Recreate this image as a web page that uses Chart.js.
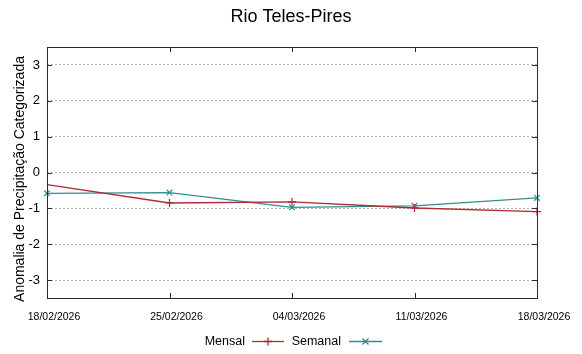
<!DOCTYPE html>
<html>
<head>
<meta charset="utf-8">
<script src="https://cdn.jsdelivr.net/npm/chart.js@4.4.1/dist/chart.umd.min.js"></script>
<style>
  html, body { margin: 0; padding: 0; background: #ffffff; }
  #wrap { width: 582px; height: 354px; position: relative; }
</style>
</head>
<body>
<div id="wrap"><canvas id="c" width="582" height="354"></canvas></div>
<script>
const chartTitle = "Rio Teles-Pires";
const yAxisTitle = "Anomalia de Precipitação Categorizada";
const dates = ["18/02/2026", "25/02/2026", "04/03/2026", "11/03/2026", "18/03/2026"];
const mensal = [-0.34, -0.85, -0.82, -0.99, -1.09];
const semanal = [-0.58, -0.56, -0.97, -0.93, -0.71];
const yTicks = [-3, -2, -1, 0, 1, 2, 3];

const FONT = "'Liberation Sans', Arial, sans-serif";
const redColor = "#b02a36";
const tealColor = "#2e8f8c";

const framePlugin = {
  id: "frame",
  afterDraw(chart) {
    const ctx = chart.ctx;
    const a = chart.chartArea;
    const xs = chart.scales.x, ys = chart.scales.y;
    ctx.save();
    ctx.strokeStyle = "#2b2b2b";
    ctx.lineWidth = 1;
    ctx.strokeRect(Math.round(a.left) + 0.5, Math.round(a.top) + 0.5,
                   Math.round(a.right - a.left), Math.round(a.bottom - a.top));
    const tl = 5;
    ctx.beginPath();
    yTicks.forEach(v => {
      const y = Math.round(ys.getPixelForValue(v)) + 0.5;
      ctx.moveTo(a.left, y); ctx.lineTo(a.left + tl, y);
      ctx.moveTo(a.right, y); ctx.lineTo(a.right - tl, y);
    });
    dates.forEach((d, i) => {
      const x = Math.round(xs.getPixelForValue(i)) + 0.5;
      ctx.moveTo(x, a.bottom); ctx.lineTo(x, a.bottom - tl);
      ctx.moveTo(x, a.top); ctx.lineTo(x, a.top + tl);
    });
    ctx.stroke();

    // titles
    ctx.fillStyle = "#000";
    ctx.textAlign = "center";
    ctx.textBaseline = "middle";
    ctx.font = "18px " + FONT;
    ctx.fillText(chartTitle, 291, 17);
    ctx.save();
    ctx.translate(20, 179);
    ctx.rotate(-Math.PI / 2);
    ctx.font = "14px " + FONT;
    ctx.fillText(yAxisTitle, 0, 0);
    ctx.restore();

    // legend (gnuplot style: text then sample)
    const ly = 341.5;
    ctx.font = "12.5px " + FONT;
    ctx.textBaseline = "middle";
    ctx.textAlign = "right";
    const items = [
      { ds: chart.data.datasets[0], textRight: 245, x1: 252, x2: 284 },
      { ds: chart.data.datasets[1], textRight: 341, x1: 349, x2: 382 }
    ];
    items.forEach(it => {
      ctx.fillStyle = "#000";
      ctx.fillText(it.ds.label, it.textRight, ly);
      ctx.strokeStyle = it.ds.borderColor;
      ctx.lineWidth = 1.3;
      ctx.beginPath();
      ctx.moveTo(it.x1, ly); ctx.lineTo(it.x2, ly);
      ctx.stroke();
      const mx = (it.x1 + it.x2) / 2, r = 4;
      ctx.beginPath();
      if (it.ds.pointStyle === "cross") {
        ctx.moveTo(mx, ly - r); ctx.lineTo(mx, ly + r);
        ctx.moveTo(mx - r, ly); ctx.lineTo(mx + r, ly);
      } else {
        const d = r * 0.75;
        ctx.moveTo(mx - d, ly - d); ctx.lineTo(mx + d, ly + d);
        ctx.moveTo(mx - d, ly + d); ctx.lineTo(mx + d, ly - d);
      }
      ctx.stroke();
    });
    ctx.restore();
  }
};

new Chart(document.getElementById("c"), {
  type: "line",
  data: {
    labels: dates,
    datasets: [
      {
        label: "Mensal",
        data: mensal,
        borderColor: redColor,
        backgroundColor: redColor,
        borderWidth: 1.3,
        pointStyle: "cross",
        pointRadius: mensal.map((v, i) => i === 0 ? 0 : 4),
        pointBorderWidth: 1.2,
        tension: 0,
        fill: false,
        clip: false
      },
      {
        label: "Semanal",
        data: semanal,
        borderColor: tealColor,
        backgroundColor: tealColor,
        borderWidth: 1.3,
        pointStyle: "crossRot",
        pointRadius: 4,
        pointBorderWidth: 1.2,
        tension: 0,
        fill: false,
        clip: false
      }
    ]
  },
  options: {
    responsive: false,
    animation: false,
    devicePixelRatio: 1,
    layout: { padding: { left: 0, right: 45, top: 47, bottom: 0 } },
    plugins: {
      legend: { display: false },
      tooltip: { enabled: false },
      title: { display: false }
    },
    scales: {
      x: {
        type: "category",
        offset: false,
        grid: { display: false, drawTicks: false },
        border: { display: false },
        ticks: {
          color: "#000",
          font: { family: FONT, size: 10.5 },
          maxRotation: 0,
          autoSkip: false,
          padding: 13,
          labelOffset: 7
        },
        afterFit(scale) { scale.height = 56; }
      },
      y: {
        min: -3.5,
        max: 3.5,
        afterBuildTicks(axis) { axis.ticks = yTicks.map(v => ({ value: v })); },
        grid: { color: "#b4b4b4", lineWidth: 1, drawTicks: false },
        border: { display: false, dash: [2, 2] },
        ticks: {
          color: "#000",
          font: { family: FONT, size: 13 },
          padding: 7
        },
        afterFit(scale) { scale.width = 47; }
      }
    }
  },
  plugins: [framePlugin]
});
</script>
</body>
</html>
